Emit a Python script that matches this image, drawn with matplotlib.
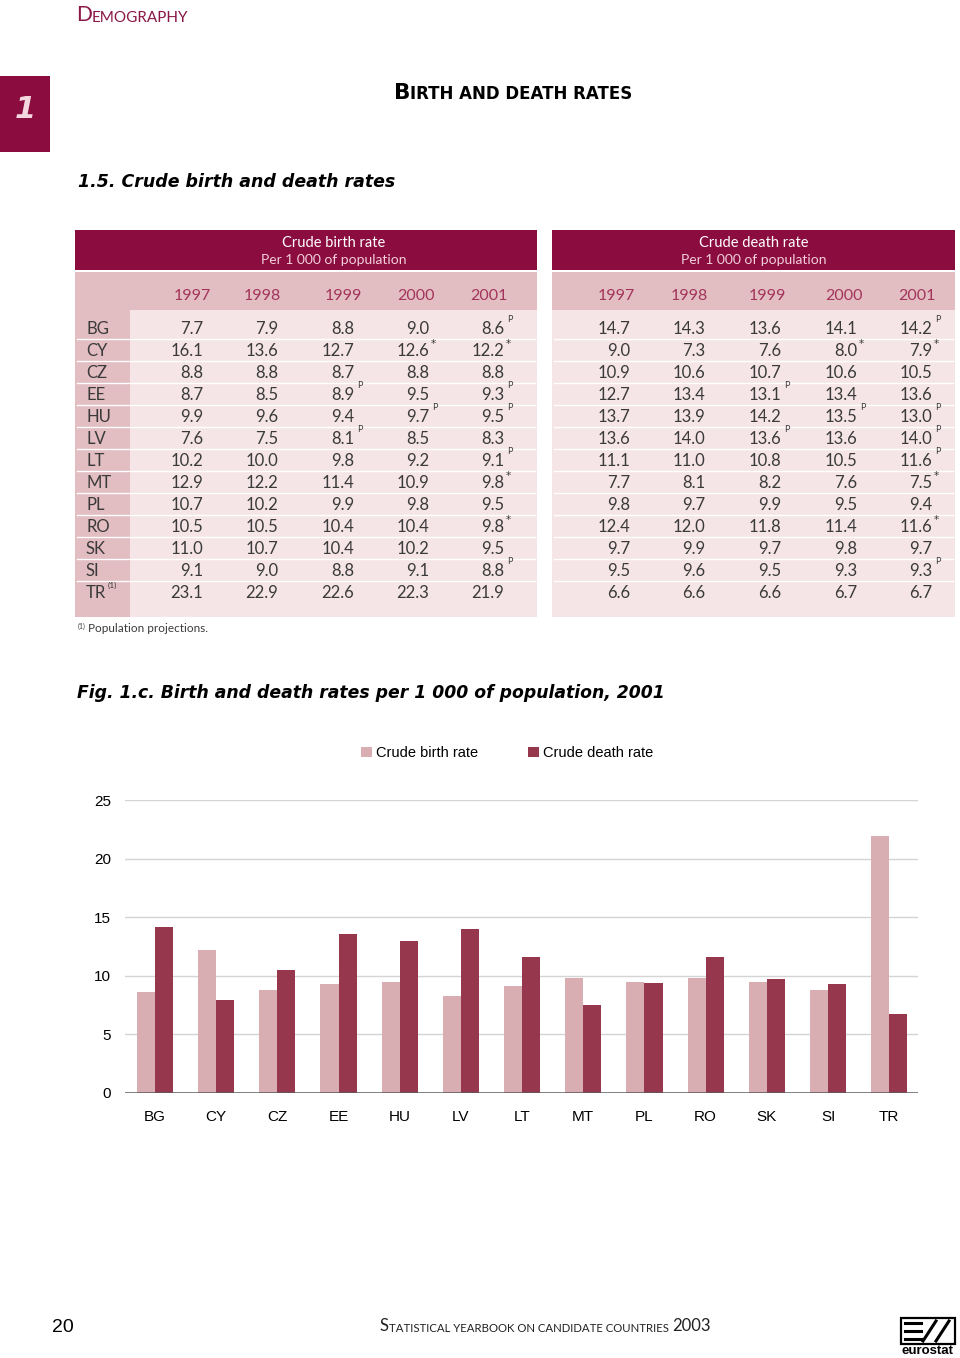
import matplotlib
matplotlib.use("Agg")
import matplotlib.pyplot as plt
from matplotlib.patches import Rectangle

# ---- data ----
countries = ["BG", "CY", "CZ", "EE", "HU", "LV", "LT", "MT", "PL", "RO", "SK", "SI", "TR"]
years = ["1997", "1998", "1999", "2000", "2001"]

birth_rate = [
    [7.7, 7.9, 8.8, 9.0, 8.6],
    [16.1, 13.6, 12.7, 12.6, 12.2],
    [8.8, 8.8, 8.7, 8.8, 8.8],
    [8.7, 8.5, 8.9, 9.5, 9.3],
    [9.9, 9.6, 9.4, 9.7, 9.5],
    [7.6, 7.5, 8.1, 8.5, 8.3],
    [10.2, 10.0, 9.8, 9.2, 9.1],
    [12.9, 12.2, 11.4, 10.9, 9.8],
    [10.7, 10.2, 9.9, 9.8, 9.5],
    [10.5, 10.5, 10.4, 10.4, 9.8],
    [11.0, 10.7, 10.4, 10.2, 9.5],
    [9.1, 9.0, 8.8, 9.1, 8.8],
    [23.1, 22.9, 22.6, 22.3, 21.9],
]
death_rate = [
    [14.7, 14.3, 13.6, 14.1, 14.2],
    [9.0, 7.3, 7.6, 8.0, 7.9],
    [10.9, 10.6, 10.7, 10.6, 10.5],
    [12.7, 13.4, 13.1, 13.4, 13.6],
    [13.7, 13.9, 14.2, 13.5, 13.0],
    [13.6, 14.0, 13.6, 13.6, 14.0],
    [11.1, 11.0, 10.8, 10.5, 11.6],
    [7.7, 8.1, 8.2, 7.6, 7.5],
    [9.8, 9.7, 9.9, 9.5, 9.4],
    [12.4, 12.0, 11.8, 11.4, 11.6],
    [9.7, 9.9, 9.7, 9.8, 9.7],
    [9.5, 9.6, 9.5, 9.3, 9.3],
    [6.6, 6.6, 6.6, 6.7, 6.7],
]
# P = provisional, * = estimate (one character per year)
birth_flags = ["    P", "   **", "     ", "  P P", "   PP", "  P  ", "    P",
               "    *", "     ", "    *", "     ", "    P", "     "]
death_flags = ["    P", "   **", "     ", "  P  ", "   PP", "  P P", "    P",
               "    *", "     ", "    *", "     ", "    P", "     "]

birth_2001 = [r[-1] for r in birth_rate]
death_2001 = [r[-1] for r in death_rate]

# ---- style ----
MAROON = "#8b0c3f"
BAND = "#e2bdc2"
CELL = "#f5e5e7"
YEAR_COL = "#a3345c"
TXT = "#3a3a3a"
BIRTH_C = "#d9aeb2"
DEATH_C = "#97374d"
PAGE_FONT = ["Lato", "DejaVu Sans"]
BOLD_FONT = ["DejaVu Sans"]
CHART_FONT = ["Liberation Sans Narrow", "Liberation Sans", "DejaVu Sans"]

W, H = 960, 1358
fig = plt.figure(figsize=(W / 100, H / 100), dpi=100)
bg = fig.add_axes([0, 0, 1, 1])
bg.set_xlim(0, W)
bg.set_ylim(H, 0)
bg.axis("off")


def small_caps(x, y, pieces, **kw):
    t = bg.text(x, y, pieces[0][0], fontsize=pieces[0][1], va="bottom", ha="left", **kw)
    for s, size in pieces[1:]:
        t = bg.annotate(s, xy=(1, 0), xycoords=t, fontsize=size, va="bottom", ha="left", **kw)
    return t


# ---- page header ----
small_caps(76, 25, [("D", 15), ("EMOGRAPHY", 11)], color="#8a1846", family=PAGE_FONT)
bg.add_patch(Rectangle((0, 76), 50, 76, color=MAROON, lw=0))
bg.text(25, 110, "1", fontsize=22, fontweight="bold", fontstyle="italic",
        color="#f3d9df", ha="center", va="center", family=BOLD_FONT)
small_caps(394, 103, [("B", 15.5), ("IRTH AND DEATH RATES", 12)],
           color="black", fontweight="bold", family=BOLD_FONT)
bg.text(78, 182, "1.5. Crude birth and death rates", fontsize=12.5, fontweight="bold",
        fontstyle="italic", va="center", ha="left", family=BOLD_FONT)

# ---- tables ----
row_y = [328 + 22 * i for i in range(len(countries))]


def draw_table(x0, x1, label_w, title, year_x, val_x, values, flags):
    bg.add_patch(Rectangle((x0, 230), x1 - x0, 40, color=MAROON, lw=0))
    bg.add_patch(Rectangle((x0, 272), x1 - x0, 345, color=BAND, lw=0))
    bg.add_patch(Rectangle((x0 + label_w, 310), x1 - x0 - label_w, 307, color=CELL, lw=0))
    cx = (x0 + label_w + x1) / 2
    bg.text(cx, 243, title, color="white", fontsize=10.5, ha="center", va="center", family=PAGE_FONT)
    bg.text(cx, 260, "Per 1 000 of population", color="#f2cfd9", fontsize=10,
            ha="center", va="center", family=PAGE_FONT)
    for yx, yr in zip(year_x, years):
        bg.text(yx, 296, yr, color=YEAR_COL, fontsize=11.5, ha="center", va="center", family=PAGE_FONT)
    for i, (vals, fl) in enumerate(zip(values, flags)):
        y = row_y[i]
        if i < len(values) - 1:
            bg.plot([x0 + 2, x1 - 2], [y + 11, y + 11], color="white", lw=1)
        for vx, v, f in zip(val_x, vals, fl):
            bg.text(vx, y + 1, f"{v:.1f}", color=TXT, fontsize=12, ha="right", va="center",
                    family=PAGE_FONT)
            if f == "P":
                bg.text(vx + 3, y - 8, f, color=TXT, fontsize=6.5, ha="left", va="center",
                        family=PAGE_FONT)
            elif f == "*":
                bg.text(vx + 2, y - 6, f, color=TXT, fontsize=7.5, ha="left", va="center",
                        family=["DejaVu Sans"])


draw_table(75, 537, 55, "Crude birth rate", [192, 262, 343, 416, 489],
           [203, 278, 354, 429, 504], birth_rate, birth_flags)
draw_table(552, 955, 0, "Crude death rate", [616, 689, 767, 844, 917],
           [630, 705, 781, 857, 932], death_rate, death_flags)

for i, c in enumerate(countries):
    bg.text(86, row_y[i] + 1, c, color=TXT, fontsize=12, ha="left", va="center", family=PAGE_FONT)
bg.text(108, row_y[-1] - 7, "(1)", color=TXT, fontsize=6, ha="left", va="center", family=PAGE_FONT)

bg.text(78, 626, "(1)", color=TXT, fontsize=5, ha="left", va="center", family=PAGE_FONT)
bg.text(88, 629, "Population projections.", color=TXT, fontsize=8.5, ha="left", va="center",
        family=PAGE_FONT)

bg.text(77, 693, "Fig. 1.c. Birth and death rates per 1 000 of population, 2001", fontsize=12.4,
        fontweight="bold", fontstyle="italic", va="center", ha="left", family=BOLD_FONT)

# ---- bar chart ----
ax_l, ax_r, ax_b, ax_t = 125, 918, 1093, 800
ax = fig.add_axes([ax_l / W, 1 - ax_b / H, (ax_r - ax_l) / W, (ax_b - ax_t) / H])
ax.patch.set_alpha(0)
x = list(range(len(countries)))
bw = 0.295
b1 = ax.bar([i - bw for i in x], birth_2001, width=bw, align="edge", color=BIRTH_C,
            label="Crude birth rate", zorder=2)
b2 = ax.bar(x, death_2001, width=bw, align="edge", color=DEATH_C,
            label="Crude death rate", zorder=2)
ax.set_ylim(0, 25)
ax.set_xlim(-0.49, 12.47)
ax.set_yticks([0, 5, 10, 15, 20, 25])
for v in [5, 10, 15, 20, 25]:
    ax.axhline(v, color="#d4d4d4", lw=1, zorder=1)
ax.axhline(0, color="#5a5a5a", lw=1.8, zorder=3)
ax.set_xticks(x)
ax.set_xticklabels(countries)
ax.tick_params(length=0, labelsize=11, pad=12)
ax.tick_params(axis="y", pad=10)
for lab in ax.get_xticklabels() + ax.get_yticklabels():
    lab.set_family(CHART_FONT)
for s in ax.spines.values():
    s.set_visible(False)

leg = fig.legend(handles=[b1, b2], loc="center left", bbox_to_anchor=(348 / W, 1 - 753 / H),
                 ncol=2, frameon=False, handlelength=0.75, handleheight=0.75,
                 handletextpad=0.3, columnspacing=3.4, prop={"family": CHART_FONT, "size": 10.5})

# ---- footer ----
bg.text(63, 1327, "20", fontsize=14, ha="center", va="center", family=CHART_FONT)
small_caps(380, 1334, [("S", 12), ("TATISTICAL YEARBOOK ON CANDIDATE COUNTRIES ", 8.2), ("2003", 12)],
           color="#222222", family=PAGE_FONT)

# eurostat logo
bg.add_patch(Rectangle((901, 1318), 54, 26, fill=False, ec="black", lw=1.6))
for ly in [1323, 1331, 1339]:
    bg.plot([905, 921], [ly, ly], color="black", lw=2.2)
bg.plot([923, 936], [1341, 1321], color="black", lw=2.2)
bg.plot([936, 949], [1341, 1321], color="black", lw=2.2)
bg.text(928, 1351, "eurostat", fontsize=9.5, fontweight="bold", ha="center", va="center",
        family=["Liberation Sans", "DejaVu Sans"])

fig.savefig("out.png", dpi=100)
